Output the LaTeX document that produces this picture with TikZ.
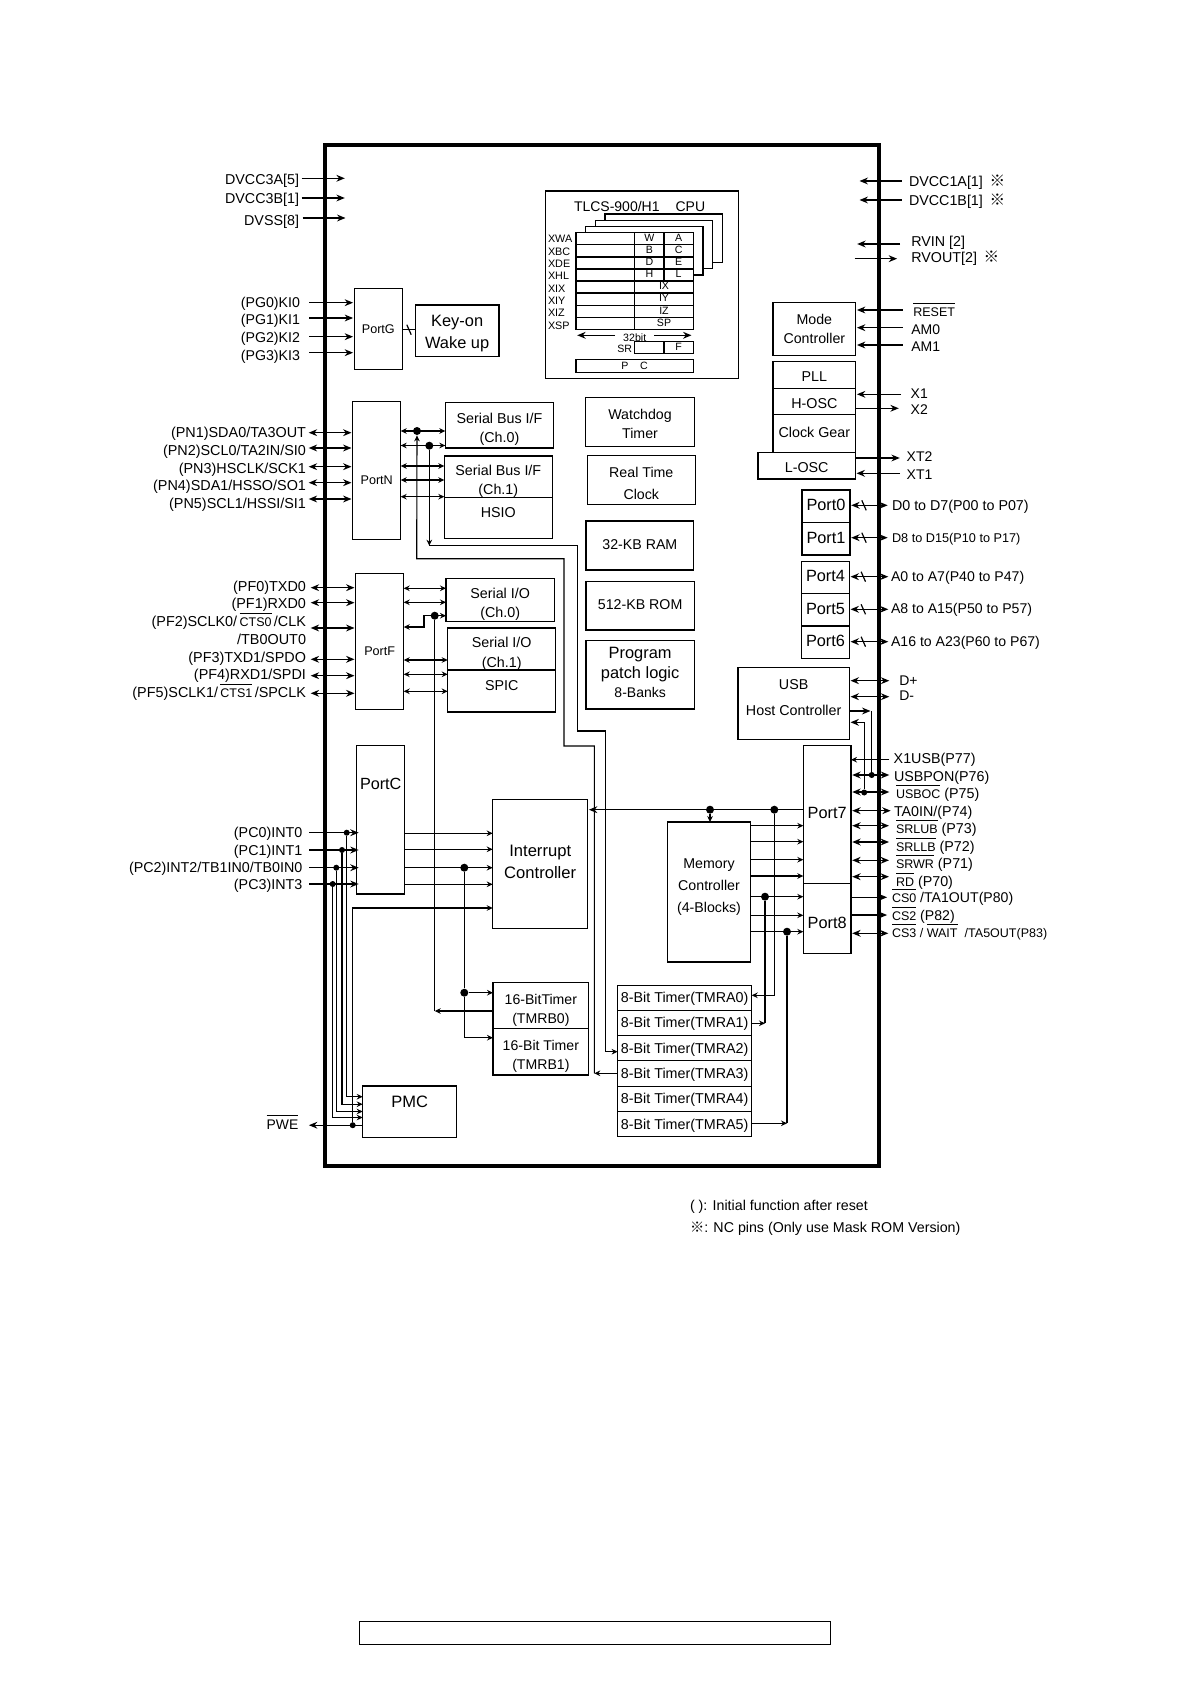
\documentclass[tikz,border=0pt]{standalone}
\usepackage{fontspec}
\setmainfont{Liberation Sans}
\newfontfamily\cjkf{Noto Sans CJK JP}
\usetikzlibrary{arrows.meta}
\newcommand\Ctr[2]{\raisebox{\dimexpr-0.34em-#1pt/2\relax}[0pt][0pt]{\begin{tabular}[c]{@{}c@{}}#2\end{tabular}}}
\newcommand\Bx[7][]{%
  \pgfmathsetmacro\kbw{(#5-#3)*0.5}\pgfmathsetmacro\kbh{(#6-#4)*0.5}%
  \pgfmathsetmacro\kcx{(#3+#5)/2}\pgfmathsetmacro\kcy{(#4+#6)/2}%
  \node[box,minimum width=\kbw pt,minimum height=\kbh pt,#1] (#2) at (\kcx,\kcy) {#7};}
\newcommand\Pin[5]{\coordinate (#3) at (#4,#5); \draw[#1] (#3) -- (#2 |- #3);}
\newcommand\Link[4]{\draw[#1] (#2 |- 0,#4) -- (#3 |- 0,#4);}
\newcommand\Slash[2]{\draw[line width=.6pt] ({#1-2.2},{#2-5}) -- ({#1+2.2},{#2+5});}
\newcommand\ov[1]{\vbox{\hrule height .4pt \kern 2pt \hbox{#1}}}
\newcommand\sm[1]{{\fontsize{6.25}{6.25}\selectfont #1}}
\begin{document}
\begin{tikzpicture}[x=0.5pt,y=-0.5pt,
  box/.style={draw=black,line width=.7pt,inner sep=0pt,outer sep=0pt,align=center},
  bf/.style 2 args={font=\fontsize{#1}{#2}\selectfont},
  pl/.style={font=\fontsize{#1}{#1}\selectfont,text height=0.716*#1 pt,text depth=0pt,inner sep=0pt,outer sep=0pt},
  tipA/.tip={Stealth[length=4.2pt,width=3.4pt]},
  tipB/.tip={Stealth[length=3pt,width=2.8pt,inset=1pt]},
  wA/.style={line width=.7pt,-tipA,shorten >=.6pt},
  wB/.style={line width=.7pt,tipA-,shorten <=.6pt},
  wD/.style={line width=.7pt,tipA-tipA,shorten >=.6pt},
  tA/.style={line width=.55pt,-tipB},
  tB/.style={line width=.55pt,tipB-},
  tD/.style={line width=.55pt,tipB-tipB},
  wire/.style={line width=.6pt},
  bigdot/.style={circle,fill=black,inner sep=0pt,minimum size=4pt},
  smalldot/.style={circle,fill=black,inner sep=0pt,minimum size=3pt}]
\useasboundingbox (0,0) rectangle (1190,1684);
% frame and footer
\Bx[line width=1.7pt]{chip}{325}{145}{879}{1166}{}
\Bx[line width=.65pt]{footer}{359.3}{1621.3}{830.7}{1644.3}{}

% power pins left
\node[pl=7.15,anchor=east] (ldvcca) at (299,179.3) {DVCC3A[5]};
\node[pl=7.15,anchor=east] (ldvccb) at (299,198) {DVCC3B[1]};
\node[pl=7.15,anchor=east] (ldvss) at (299,220.7) {DVSS[8]};
\coordinate (pa1) at (301.7,178.3); \coordinate (pa2) at (346,178.3); \draw[wA] (pa1) -- (pa2);
\coordinate (pb1) at (301.7,198); \coordinate (pb2) at (346,198); \draw[wA] (pb1) -- (pb2);
\coordinate (pw1) at (302.5,218); \coordinate (pw2) at (346.7,218); \draw[wA] (pw1) -- (pw2);

% Port G
\Bx[bf={6.3}{7.5}]{portG}{354.3}{288.3}{402.3}{369.3}{\Ctr{.5}{PortG}}
\Bx[bf={8.2}{11}]{keyon}{415.3}{305}{499}{356.7}{\Ctr{.9}{Key-on\\Wake up}}
\draw[wire] (portG.east |- 0,329.7) -- (keyon.west |- 0,329.7);
\Slash{409}{329.7}
\node[pl=7.1,anchor=east] (lpg0) at (300,302.3) {(PG0)KI0};
\node[pl=7.1,anchor=east] (lpg1) at (300,319.7) {(PG1)KI1};
\node[pl=7.1,anchor=east] (lpg2) at (300,337) {(PG2)KI2};
\node[pl=7.1,anchor=east] (lpg3) at (300,355) {(PG3)KI3};
\Pin{wA}{portG.west}{pg0}{309.3}{302.7}
\Pin{wA}{portG.west}{pg1}{309.3}{318}
\Pin{wA}{portG.west}{pg2}{309.3}{336.7}
\Pin{wA}{portG.west}{pg3}{309.3}{352.7}

% Port N
\Bx[bf={6.3}{7.5}]{portN}{352.7}{401.7}{400.7}{539.3}{\Ctr{9.5}{PortN}}
\Bx[bf={7.15}{9.5}]{sb0}{445.3}{402.7}{553.7}{448}{\Ctr{2.5}{Serial Bus I/F\\(Ch.0)}}
\Bx[bf={7.15}{9.5}]{sb1}{444.3}{456}{552.3}{497.3}{\Ctr{3.6}{Serial Bus I/F\\(Ch.1)}}
\Bx[bf={7.15}{9.5}]{hsio}{444.3}{497.3}{552.3}{538.7}{\Ctr{-6}{HSIO}}
\node[pl=7.2,anchor=east] (lpn1) at (306,432.7) {(PN1)SDA0/TA3OUT};
\node[pl=7.2,anchor=east] (lpn2) at (306,450.7) {(PN2)SCL0/TA2IN/SI0};
\node[pl=7.2,anchor=east] (lpn3) at (306,468.3) {(PN3)HSCLK/SCK1};
\node[pl=7.2,anchor=east] (lpn4) at (306,485.7) {(PN4)SDA1/HSSO/SO1};
\node[pl=7.2,anchor=east] (lpn5) at (306,503.3) {(PN5)SCL1/HSSI/SI1};
\Pin{wD}{portN.west}{pn1}{308.7}{432.7}
\Pin{wD}{portN.west}{pn2}{308.7}{448}
\Pin{wD}{portN.west}{pn3}{308.7}{466.7}
\Pin{wD}{portN.west}{pn4}{308.7}{482.7}
\Pin{wD}{portN.west}{pn5}{308.7}{499}
\Link{tD}{portN.east}{sb0.west}{431}
\Link{tD}{portN.east}{sb0.west}{445.5}
\Link{tD}{portN.east}{sb1.west}{466}
\Link{tD}{portN.east}{sb1.west}{480}
\Link{tD}{portN.east}{sb1.west}{496.7}
\node[bigdot] (jn1) at (417,431) {};
\node[bigdot] (jn2) at (429.3,445.7) {};

% Port F
\Bx[bf={6.3}{7.5}]{portF}{355.7}{573.3}{403.7}{709.7}{\Ctr{9.8}{PortF}}
\Bx[bf={7.15}{9.7}]{sio0}{446}{578.3}{554.3}{621.7}{\Ctr{2.5}{Serial I/O\\(Ch.0)}}
\Bx[bf={7.15}{9.7}]{sio1}{447.7}{628}{555.7}{670}{\Ctr{3.3}{Serial I/O\\(Ch.1)}}
\Bx[bf={7.15}{9.7}]{spic}{447.7}{670}{555.7}{712}{\Ctr{-6}{SPIC}}
\node[pl=7.2,anchor=east] (lpf0) at (306,586.7) {(PF0)TXD0};
\node[pl=7.2,anchor=east] (lpf1) at (306,603.7) {(PF1)RXD0};
\node[pl=7.2,anchor=east] (lpf2) at (306,621.7) {(PF2)SCLK0/\,\ov{\sm{CTS0}}\,/CLK};
\node[pl=7.2,anchor=east] (lpf2b) at (306,639.3) {/TB0OUT0};
\node[pl=7.2,anchor=east] (lpf3) at (306,657) {(PF3)TXD1/SPDO};
\node[pl=7.2,anchor=east] (lpf4) at (306,674.7) {(PF4)RXD1/SPDI};
\node[pl=7.2,anchor=east] (lpf5) at (306,692.3) {(PF5)SCLK1/\,\ov{\sm{CTS1}}\,/SPCLK};
\Pin{wD}{portF.west}{pf0}{310.7}{587.7}
\Pin{wD}{portF.west}{pf1}{310.7}{602.7}
\Pin{wD}{portF.west}{pf2}{310.7}{628}
\Pin{wD}{portF.west}{pf3}{310.7}{659.3}
\Pin{wD}{portF.west}{pf4}{310.7}{675.7}
\Pin{wD}{portF.west}{pf5}{310.7}{693.3}
\Link{tD}{portF.east}{sio0.west}{588.3}
\Link{tD}{portF.east}{sio0.west}{602.3}
\Link{tD}{portF.east}{sio1.west}{660}
\Link{tD}{portF.east}{sio1.west}{674.3}
\Link{tD}{portF.east}{sio1.west}{691.3}
\node[bigdot] (jf) at (434.7,615.7) {};
\coordinate (ef1) at (424,615.7); \coordinate (ef2) at (424,627);
\draw[tD] (portF.east |- ef2) -- (ef2) -- (ef1) -- (sio0.west |- ef1);

% Port C
\Bx[bf={8.1}{10}]{portC}{356.7}{745.7}{404.7}{894}{\Ctr{-35.85}{PortC}}
\Bx[bf={8.3}{11.2}]{intr}{492.7}{799.3}{587.7}{928.3}{\Ctr{-2.65}{Interrupt\\Controller}}
\node[pl=7.15,anchor=east] (lpc0) at (302.3,832.3) {(PC0)INT0};
\node[pl=7.15,anchor=east] (lpc1) at (302.3,850) {(PC1)INT1};
\node[pl=7.15,anchor=east] (lpc2) at (302.3,867.7) {(PC2)INT2/TB1IN0/TB0IN0};
\node[pl=7.15,anchor=east] (lpc3) at (302.3,884.7) {(PC3)INT3};
\Pin{wA,shorten >=-1pt}{portC.west}{pc0}{309}{832.7}
\Pin{wA,shorten >=-1pt}{portC.west}{pc1}{309}{850}
\Pin{wA,shorten >=-1pt}{portC.west}{pc2}{309}{867.7}
\Pin{wA,shorten >=-1pt}{portC.west}{pc3}{309}{884}
\Link{tA}{portC.east}{intr.west}{833.3}
\Link{tA}{portC.east}{intr.west}{849.3}
\Link{tA}{portC.east}{intr.west}{867.7}
\Link{tA}{portC.east}{intr.west}{884.3}
\node[smalldot] (jc0) at (346.7,832.7) {};
\node[smalldot] (jc1) at (342,850) {};
\node[smalldot] (jc2) at (336.3,867.7) {};
\node[smalldot] (jc3) at (332.7,884) {};
\node[bigdot] (jint) at (464.3,867.7) {};

% PMC
\Bx[bf={8.25}{10}]{pmc}{362.7}{1086}{456.7}{1137.7}{\Ctr{-10.15}{PMC}}
\draw[tA] (jc0) |- (pmc.west |- 0,1096.7);
\draw[tA] (jc1) |- (pmc.west |- 0,1104.2);
\draw[tA] (jc2) |- (pmc.west |- 0,1111.5);
\draw[tA] (jc3) |- (pmc.west |- 0,1117.5);
\node[smalldot] (jp) at (352.7,1125.2) {};
\coordinate (pwe) at (307.7,1125.2);
\draw[wA] (pmc.west |- pwe) -- (pwe);
\node[pl=6.95,anchor=east] (lpwe) at (298.3,1124.3) {\ov{PWE}};
\draw[tA] (jp) |- (intr.west |- 0,908);

% Timers B
\Bx[bf={7.05}{9.6}]{tb0}{493}{982.3}{588.7}{1028.3}{\Ctr{3.2}{16-BitTimer\\(TMRB0)}}
\Bx[bf={7.05}{9.6}]{tb1}{493}{1028.3}{588.7}{1075}{\Ctr{3}{16-Bit Timer\\(TMRB1)}}
\node[bigdot] (jtb) at (464.3,992.7) {};
\draw[wire] (jint) -- (jtb);
\draw[tA] (jtb) -- (tb0.west |- jtb);
\draw[tA] (jtb) |- (tb1.west |- 0,1037.7);
\coordinate (jfb) at (434.7,1011);
\draw[wire] (jf) -- (jfb);
\draw[tA] (tb0.west |- jfb) -- (jfb);

% CPU
\Bx{cpu}{545.3}{191}{738.3}{378.3}{}
\node[pl=7,anchor=west] (cputitle) at (574,206) {TLCS-900/H1\hspace{8pt}CPU};
\Bx[fill=white]{sh1}{605}{214}{722.3}{262.7}{}
\Bx[fill=white]{sh2}{595.3}{220.7}{712.7}{268.7}{}
\Bx[fill=white]{sh3}{585.7}{226.7}{703}{275}{}
\foreach \i/\ya/\yb/\m/\n/\lb in {1/232.7/244.8/W/A/XWA,2/244.8/256.9/B/C/XBC,3/256.9/269/D/E/XDE,4/269/281.1/H/L/XHL}{
  \Bx[fill=white]{rl\i}{576}{\ya}{634.7}{\yb}{}
  \Bx[fill=white,bf={5.3}{6}]{rm\i}{634.7}{\ya}{664}{\yb}{\Ctr{-.8}{\m}}
  \Bx[fill=white,bf={5.3}{6}]{rn\i}{664}{\ya}{693.3}{\yb}{\Ctr{-.8}{\n}}
}
\foreach \i/\ya/\yb/\m in {5/281.1/293.2/IX,6/293.2/305.3/IY,7/305.3/317.3/IZ,8/317.3/329.3/SP}{
  \Bx[fill=white]{rl\i}{576}{\ya}{634.7}{\yb}{}
  \Bx[fill=white,bf={5.3}{6}]{rm\i}{634.7}{\ya}{693.3}{\yb}{\Ctr{-.8}{\m}}
}
\foreach \t/\y in {XWA/239,XBC/251.3,XDE/263.7,XHL/276,XIX/288.3,XIY/300.7,XIZ/313,XSP/325.3}{
  \node[pl=5.4,anchor=west] (lab\t) at (548,\y) {\t};
}
\coordinate (b1) at (615,335.3); \coordinate (b2) at (576,335.3); \draw[wA] (b1) -- (b2);
\coordinate (b3) at (654,335.3); \coordinate (b4) at (692.7,335.3); \draw[wA] (b3) -- (b4);
\node[pl=5.3] (l32) at (634.7,337.7) {32bit};
\node[pl=5.3,anchor=east] (lsr) at (632,349) {SR};
\Bx{sra}{634.7}{341.7}{664}{353.7}{}
\Bx[bf={5.3}{6}]{srb}{664}{341.7}{693.3}{353.7}{\Ctr{-.5}{F}}
\Bx[bf={5.3}{6}]{pcreg}{576}{359.3}{693.3}{372.3}{\Ctr{.5}{P\hspace{5.8pt}C}}

% Central blocks
\Bx[bf={7.1}{9.7}]{wdt}{585.7}{397.7}{694.3}{446.7}{\Ctr{1.45}{Watchdog\\Timer}}
\Bx[bf={7.1}{11.1}]{rtc}{587.3}{455.3}{695.3}{504.3}{\Ctr{3}{Real Time\\Clock}}
\Bx[bf={7.1}{9}]{ram}{586}{521}{693.7}{570}{\Ctr{-.5}{32-KB RAM}}
\Bx[bf={7.1}{9}]{rom}{586}{581.7}{694.3}{630}{\Ctr{-.85}{512-KB ROM}}
\Bx[bf={8.2}{9.75}]{patch}{586}{640.7}{694.3}{709}{\Ctr{-2.1}{Program\\patch logic\\{\fontsize{7}{9.75}\selectfont 8-Banks}}}

% Right column top
\node[pl=7.15,anchor=west] (ld1a) at (909,181) {DVCC1A[1]};
\node[pl=7.15,anchor=west] (ld1b) at (909,200) {DVCC1B[1]};
\node[pl=7.8] (mk1) at (997.3,181) {\cjkf ※};
\node[pl=7.8] (mk2) at (997.3,200) {\cjkf ※};
\coordinate (d1) at (901.7,181); \coordinate (d2) at (858.3,181); \draw[wA] (d1) -- (d2);
\coordinate (d3) at (901.7,200); \coordinate (d4) at (858.3,200); \draw[wA] (d3) -- (d4);
\node[pl=7.15,anchor=west] (lrvin) at (911.3,241.3) {RVIN [2]};
\node[pl=7.15,anchor=west] (lrvout) at (911.3,257.3) {RVOUT[2]};
\node[pl=7.8] (mk3) at (991.3,257.3) {\cjkf ※};
\coordinate (r1) at (900,244); \coordinate (r2) at (856,244); \draw[wA] (r1) -- (r2);
\coordinate (r3) at (854.7,258.7); \coordinate (r4) at (898.3,258.7); \draw[wA] (r3) -- (r4);

\Bx[bf={7.1}{9.5}]{mode}{773}{302.7}{855.7}{355.3}{\Ctr{-.5}{Mode\\Controller}}
\Bx[bf={7.15}{9}]{pll}{773}{361.7}{855.7}{388.3}{\Ctr{2}{PLL}}
\Bx[bf={7.15}{9}]{hosc}{773}{388.3}{855.7}{414.3}{\Ctr{2}{H-OSC}}
\Bx[bf={7.15}{9}]{clk}{773}{414.3}{855.7}{452.3}{\Ctr{-.6}{Clock Gear}}
\Bx[bf={7.15}{9}]{losc}{758}{452.3}{855.3}{479}{\Ctr{2}{L-OSC}}
\node[pl=6.25,anchor=west] (lrst) at (913.3,312) {\ov{RESET}};
\node[pl=7,anchor=west] (lam0) at (911.3,329.3) {AM0};
\node[pl=7,anchor=west] (lam1) at (911.3,346.7) {AM1};
\Pin{wA}{mode.east}{prst}{902.7}{310}
\Pin{wA}{mode.east}{pam0}{902.7}{327.7}
\Pin{wA}{mode.east}{pam1}{902.7}{345}
\node[pl=7,anchor=west] (lx1) at (910.7,393.7) {X1};
\node[pl=7,anchor=west] (lx2) at (910.7,409) {X2};
\Pin{wA}{hosc.east}{px1}{901}{394.3}
\Pin{wB}{hosc.east}{px2}{900}{408.3}
\node[pl=7,anchor=west] (lxt2) at (906.7,456.7) {XT2};
\node[pl=7,anchor=west] (lxt1) at (906.7,474) {XT1};
\Pin{wB}{losc.east}{pxt2}{901}{458}
\Pin{wA}{losc.east}{pxt1}{900}{473.3}

% Address and data ports
\Bx[bf={8.15}{9}]{port0}{802}{490}{850}{522.3}{\Ctr{-.9}{Port0}}
\Bx[bf={8.15}{9}]{port1}{802}{522.3}{850}{555}{\Ctr{-.6}{Port1}}
\Bx[bf={8.15}{9}]{port4}{801.7}{561.3}{849.3}{593.7}{\Ctr{-.8}{Port4}}
\Bx[bf={8.15}{9}]{port5}{801.7}{593.7}{849.3}{626}{\Ctr{-.5}{Port5}}
\Bx[bf={8.15}{9}]{port6}{801.7}{626}{849.3}{658.7}{\Ctr{-.6}{Port6}}
\node[pl=7.15,anchor=west] (ld0) at (892,505.3) {D0 to D7(P00 to P07)};
\node[pl=6.35,anchor=west] (ld8) at (892,537.7) {D8 to D15(P10 to P17)};
\node[pl=7.05,anchor=west] (la0) at (891,576.7) {A0 to A7(P40 to P47)};
\node[pl=7.05,anchor=west] (la8) at (891,608.7) {A8 to A15(P50 to P57)};
\node[pl=7.05,anchor=west] (la16) at (891,641) {A16 to A23(P60 to P67)};
\Pin{wD}{port0.east}{pd0}{887.7}{505.3}
\Pin{wD}{port1.east}{pd8}{887.7}{537.7}
\Pin{wD}{port4.east}{pa0}{888.3}{576.7}
\Pin{wD}{port5.east}{pa8}{888.3}{609.3}
\Pin{wD}{port6.east}{pa16}{888.3}{641.7}
\Slash{864}{505.3}\Slash{864}{537.7}\Slash{863.3}{576.7}\Slash{863.3}{609.3}\Slash{863.3}{641.7}

% USB
\Bx[bf={7.15}{12.8}]{usb}{738}{667.7}{849.3}{739.3}{\Ctr{-7.5}{USB\\Host Controller}}
\node[pl=7,anchor=west] (ldp) at (899.3,680) {D+};
\node[pl=7,anchor=west] (ldm) at (899.3,695.7) {D-};
\Pin{wD}{usb.east}{pdp}{889.3}{680.7}
\Pin{wD}{usb.east}{pdm}{889.3}{696.7}

% Port 7 and 8
\Bx[bf={8.15}{9}]{port7}{803.3}{745.7}{851}{883.3}{\Ctr{-1.2}{Port7}}
\Bx[bf={8.15}{9}]{port8}{803.3}{883.3}{851}{953.7}{\Ctr{4.5}{Port8}}
\node[pl=7.15,anchor=west] (lp77) at (893.7,758.3) {X1USB(P77)};
\node[pl=7.15,anchor=west] (lp76) at (894,776) {USBPON(P76)};
\node[pl=7.15,anchor=west] (lp75) at (896,793.3) {\ov{\sm{USBOC}} (P75)};
\node[pl=7.15,anchor=west] (lp74) at (894,811) {TA0IN/(P74)};
\node[pl=7.15,anchor=west] (lp73) at (896,828.7) {\ov{\sm{SRLUB}} (P73)};
\node[pl=7.15,anchor=west] (lp72) at (896,846.3) {\ov{\sm{SRLLB}} (P72)};
\node[pl=7.15,anchor=west] (lp71) at (896,863.7) {\ov{\sm{SRWR}} (P71)};
\node[pl=7.15,anchor=west] (lp70) at (896,881.7) {\ov{\sm{RD}} (P70)};
\node[pl=7.05,anchor=west] (lp80) at (892,897.3) {\ov{\sm{CS0}} /TA1OUT(P80)};
\node[pl=7.05,anchor=west] (lp82) at (892,915) {\ov{\sm{CS2}} (P82)};
\node[pl=6.25,anchor=west] (lp83) at (892,932.7) {\ov{CS3} / \ov{WAIT}\hspace{3.6pt}/TA5OUT(P83)};
\Pin{tA}{port7.east}{p77}{889.3}{759.7}
\Pin{wD}{port7.east}{p76}{889.3}{775}
\Pin{wD}{port7.east}{p75}{889.3}{792}
\Pin{wD}{port7.east}{p74}{890.7}{810.7}
\Pin{wD}{port7.east}{p73}{889}{825.7}
\Pin{wD}{port7.east}{p72}{889}{842}
\Pin{wD}{port7.east}{p71}{889}{860.3}
\Pin{wD}{port7.east}{p70}{889}{876.7}
\Pin{wB}{port8.east}{p80}{888.3}{897.3}
\Pin{wB}{port8.east}{p82}{888.3}{915}
\Pin{wD}{port8.east}{p83}{888.3}{933.3}
\node[smalldot] (jv1) at (871.7,775) {};
\node[smalldot] (jv2) at (864.2,792.5) {};
\coordinate (cv1) at (871.7,711);
\draw[wire] (jv1) -- (cv1);
\draw[wA] (usb.east |- cv1) -- (cv1);
\draw[wA] (jv2) |- (usb.east |- 0,722.3);

% Memory controller
\Bx[bf={7.1}{11.2}]{mem}{667.7}{822}{750.3}{962}{\Ctr{-7.3}{Memory\\Controller\\(4-Blocks)}}
\draw[wA] (port7.west |- 0,809.7) -- (intr.east |- 0,809.7);
\node[bigdot] (jm1) at (710,809.7) {};
\node[bigdot] (jm2) at (774.3,809.7) {};
\draw[tA] (jm1) -- (mem.north -| jm1);
\Link{tA}{mem.east}{port7.west}{825.7}
\Link{tA}{mem.east}{port7.west}{841.7}
\Link{tA}{mem.east}{port7.west}{859.7}
\Link{tA}{mem.east}{port7.west}{876}
\Link{tA}{mem.east}{port8.west}{896.7}
\Link{tA}{mem.east}{port8.west}{915.3}
\Link{tA}{mem.east}{port8.west}{931.7}
\node[bigdot] (jm3) at (765,896.7) {};
\node[bigdot] (jm4) at (787,931.7) {};

% Timers A
\Bx[bf={7.15}{9}]{ta0}{617.6}{985.3}{751.7}{1010.3}{\Ctr{0}{8-Bit Timer(TMRA0)}}
\Bx[bf={7.15}{9}]{ta1}{617.6}{1010.3}{751.7}{1035.7}{\Ctr{0}{8-Bit Timer(TMRA1)}}
\Bx[bf={7.15}{9}]{ta2}{617.6}{1035.7}{751.7}{1060.7}{\Ctr{0}{8-Bit Timer(TMRA2)}}
\Bx[bf={7.15}{9}]{ta3}{617.6}{1060.7}{751.7}{1086.3}{\Ctr{0}{8-Bit Timer(TMRA3)}}
\Bx[bf={7.15}{9}]{ta4}{617.6}{1086.3}{751.7}{1111.7}{\Ctr{0}{8-Bit Timer(TMRA4)}}
\Bx[bf={7.15}{9}]{ta5}{617.6}{1111.7}{751.7}{1136.7}{\Ctr{0}{8-Bit Timer(TMRA5)}}
\draw[tA] (jm2) |- (ta0.east |- 0,995.3);
\coordinate (c1) at (765,1023.3);
\draw[tA] (ta1.east |- c1) -- (c1);
\draw[wire] (jm3) -- (c1);
\coordinate (c5) at (787,1123.3);
\draw[wire] (jm4) -- (c5);
\draw[tA] (ta5.east |- c5) -- (c5);

% Long routes
\coordinate (ra1) at (594.3,1073.3);
\coordinate (ra2) at (594.3,746);
\coordinate (ra3) at (564,746);
\coordinate (ra4) at (564,558.7);
\coordinate (ra5) at (416.7,558.7);
\draw[tA] (ta3.west |- ra1) -- (ra1);
\draw[tA] (ra1) -- (ra2) -- (ra3) -- (ra4) -- (ra5) -- (jn1);
\coordinate (rb1) at (429.3,545.7);
\coordinate (rb2) at (577.3,545.7);
\coordinate (rb3) at (577.3,731);
\coordinate (rb4) at (605.7,731);
\coordinate (rb5) at (605.7,1051.7);
\draw[tA] (jn2) -- (rb1);
\draw[tA] (rb1) -- (rb2) -- (rb3) -- (rb4) -- (rb5) -- (ta2.west |- rb5);

% Notes
\node[pl=7.12,anchor=west] (note1) at (690,1205.3) {( ): Initial function after reset};
\node[pl=7.12,anchor=west] (note2) at (690,1227.3) {{\cjkf ※}: NC pins (Only use Mask ROM Version)};
\end{tikzpicture}
\end{document}
